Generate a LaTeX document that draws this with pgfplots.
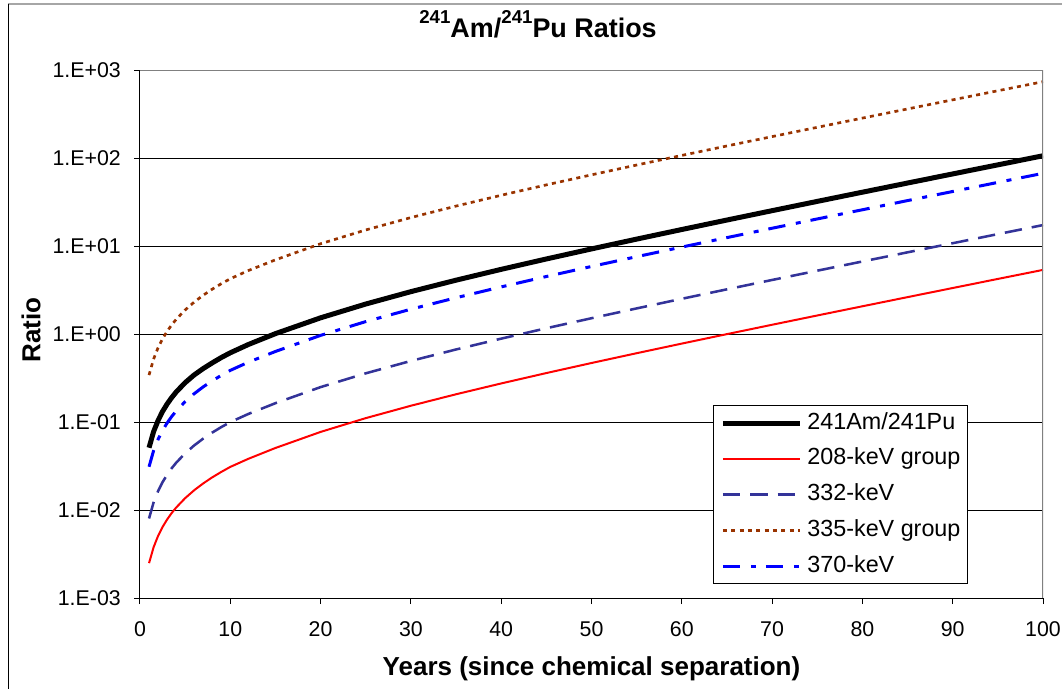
\documentclass[border=0pt]{standalone}
\usepackage{fontspec}
\setmainfont{Liberation Sans}
\usepackage{pgfplots}
\usepackage{pgfplotstable}
\pgfplotsset{compat=1.18}

\definecolor{slate}{RGB}{51,51,153}
\definecolor{rust}{RGB}{153,51,0}
\definecolor{framegray}{RGB}{128,128,128}

% years since separation, ratio of 241Am/241Pu and the four gamma-line ratios
\pgfplotstableread{
t   am      g208     g332     g335    g370
1   0.0510  0.00249  0.00801  0.341   0.0310
1.5 0.0775  0.00376  0.01215  0.5174  0.04704
2   0.1040  0.00508  0.01639  0.698   0.0634
2.5 0.1320  0.00642  0.02074  0.8831  0.08028
3   0.1600  0.00780  0.02518  1.072   0.0974
3.5 0.1890  0.00921  0.02974  1.266   0.1151
4   0.2190  0.01065  0.03440  1.465   0.1332
5   0.2800  0.01364  0.04405  1.876   0.1706
6   0.3430  0.01678  0.05418  2.307   0.2098
7   0.4050  0.02006  0.06479  2.759   0.2508
8   0.4700  0.02350  0.07591  3.232   0.2938
9   0.5400  0.02710  0.08755  3.728   0.3389
10  0.6120  0.03090  0.09977  4.248   0.3862
12  0.7600  0.03820  0.1235   5.261   0.4783
15  1.010   0.05069  0.1637   6.968   0.6335
20  1.528   0.07719  0.2493   10.61   0.9649
25  2.191   0.1107   0.3575   15.22   1.384
30  3.030   0.1531   0.4944   21.05   1.914
35  4.090   0.2067   0.6674   28.42   2.583
40  5.431   0.2744   0.8861   37.73   3.430
45  7.126   0.3600   1.163    49.51   4.501
50  9.270   0.4684   1.512    64.40   5.855
55  11.98   0.6052   1.954    83.22   7.565
60  15.40   0.7784   2.513    107.0   9.729
65  19.74   0.9972   3.220    137.1   12.46
70  25.21   1.274    4.113    175.1   15.92
75  32.14   1.624    5.243    223.3   20.30
80  40.89   2.066    6.671    284.1   25.82
85  51.96   2.625    8.478    361.0   32.82
90  65.95   3.332    10.76    458.2   41.65
95  83.64   4.226    13.65    581.1   52.83
100 106.0   5.356    17.30    736.4   66.95
}\ratios

\begin{document}
\begin{tikzpicture}
\useasboundingbox (0,0) rectangle (796.5pt,-516.75pt);
% outer chart frame
\draw[framegray!70, line width=1.5pt] (6pt,-3pt) -- (796.5pt,-3pt);
\draw[black, line width=0.75pt] (6pt,-3pt) -- (6pt,-516.75pt);

\begin{axis}[
    at={(105pt,-448.5pt)}, anchor=south west,
    scale only axis, width=677.25pt, height=396pt,
    ymode=log,
    xmin=0, xmax=100, ymin=1e-3, ymax=1e3,
    xtick={0,10,...,100},
    ytick={1e-3,1e-2,1e-1,1,1e1,1e2,1e3},
    yticklabels={1.E-03,1.E-02,1.E-01,1.E+00,1.E+01,1.E+02,1.E+03},
    ymajorgrids,
    grid style={black, line width=0.75pt},
    axis x line*=bottom, axis y line*=left,
    axis line style={black, line width=0.75pt, -},
    tick align=outside, major tick length=4.5pt,
    tick style={black, line width=0.75pt},
    minor tick style={draw=none},
    /pgf/number format/assume math mode=true,
    ticklabel style={font=\fontsize{16}{19}\selectfont, inner sep=0pt},
    xticklabel style={anchor=north, yshift=-12.75pt},
    yticklabel style={anchor=east, xshift=-9.75pt},
    title={\raisebox{10.8pt}{\fontsize{14}{16}\selectfont 241}Am/\raisebox{10.8pt}{\fontsize{14}{16}\selectfont 241}Pu Ratios},
    title style={font=\bfseries\fontsize{20.2}{24}\selectfont,
        at={(axis description cs:0.4408,1.0455)}, anchor=base},
    xlabel={Years (since chemical separation)},
    xlabel style={font=\bfseries\fontsize{19.5}{23}\selectfont,
        at={(axis description cs:0.5,-0.1472)}, anchor=base},
    ylabel={Ratio},
    ylabel style={font=\bfseries\fontsize{19.5}{23}\selectfont,
        at={(axis description cs:-0.1207,0.5076)}, anchor=center},
    legend style={at={(rel axis cs:0.9169,0.0265)}, anchor=south east,
        draw=black, line width=0.75pt, fill=white,
        font=\fontsize{17.5}{21}\selectfont,
        inner xsep=5.25pt, inner ysep=5pt, row sep=10.8pt,
        nodes={inner sep=0pt, text height=12.5pt, text depth=3.5pt},
        /tikz/every odd column/.append style={column sep=3.75pt}},
    legend cell align=left,
    legend image code/.code={\draw[#1] (0pt,0pt) -- (57.75pt,0pt);},
]

\addplot[black, line width=3.75pt] table[x=t, y=am] {\ratios};
\addlegendentry{241Am/241Pu}

\addplot[red, line width=1.5pt] table[x=t, y=g208] {\ratios};
\addlegendentry{208-keV group}

\addplot[slate, line width=1.9pt, dash pattern=on 13pt off 7.5pt] table[x=t, y=g332] {\ratios};
\addlegendentry{332-keV}

\addplot[rust, line width=2pt, dash pattern=on 3pt off 3.25pt] table[x=t, y=g335] {\ratios};
\addlegendentry{335-keV group}

\addplot[blue, line width=2.25pt, dash pattern=on 13pt off 8pt on 3.75pt off 7.5pt] table[x=t, y=g370] {\ratios};
\addlegendentry{370-keV}

% plot-area border on the top and right is grey in the original
\draw[framegray, line width=1.5pt] (rel axis cs:0,1) -- (rel axis cs:1,1) -- (rel axis cs:1,0);
\end{axis}
\end{tikzpicture}
\end{document}
